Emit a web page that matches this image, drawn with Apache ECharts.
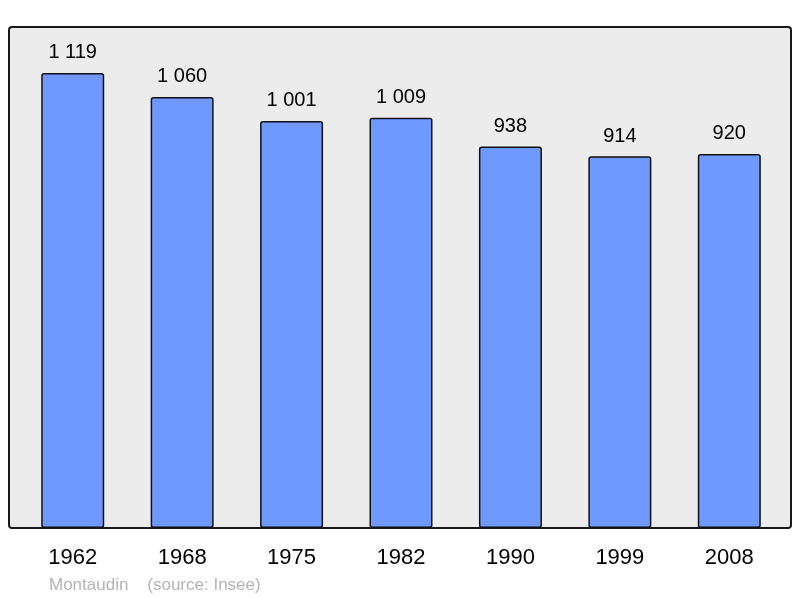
<!DOCTYPE html>
<html><head><meta charset="utf-8">
<script src="https://cdn.jsdelivr.net/npm/echarts@6/dist/echarts.min.js"></script>
<style>html,body{margin:0;padding:0;background:#fff}#c{width:800px;height:598px}</style>
</head><body><div id="c"></div>
<script>
const years = ['1962','1968','1975','1982','1990','1999','2008'];
const population = [1119, 1060, 1001, 1009, 938, 914, 920];
const footer = 'Montaudin    (source: Insee)';

function fmt(v){ return String(v).replace(/\B(?=(\d{3})+(?!\d))/g, ' '); }

const chart = echarts.init(document.getElementById('c'), null, {renderer:'canvas'});
chart.setOption({
  animation:false,
  textStyle:{fontFamily:'Liberation Sans, Arial, sans-serif'},
  graphic:[
    {type:'rect', z:-10, shape:{x:9,y:27,width:782,height:501,r:3}, style:{fill:'#ececec',stroke:'#1a1a1a',lineWidth:2}},
    {type:'text', left:49, top:577, style:{text:footer, fill:'#b4b4b4', fontSize:17, fontFamily:'Liberation Sans, Arial, sans-serif'}}
  ],
  grid:{left:18, right:16, top:27, bottom:70},
  xAxis:{type:'category', data:years, axisLine:{show:false}, axisTick:{show:false},
    axisLabel:{color:'#000', fontSize:22, margin:19, fontFamily:'Liberation Sans, Arial, sans-serif'}},
  yAxis:{type:'value', min:0, max:1232, show:false, splitLine:{show:false}},
  series:[{type:'bar', data:population, barWidth:63,
    itemStyle:{color:'#7099ff', borderColor:'#111', borderWidth:1.5, borderRadius:2},
    label:{show:true, position:'top', distance:10, color:'#000', fontSize:20,
      fontFamily:'Liberation Sans, Arial, sans-serif', formatter:p=>fmt(p.value)}}]
});
</script></body></html>
